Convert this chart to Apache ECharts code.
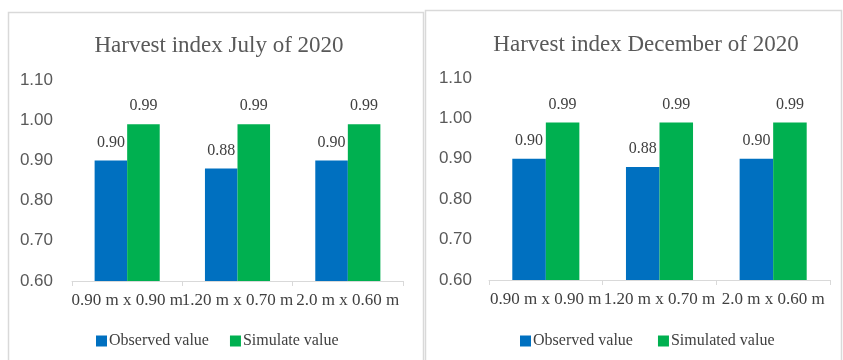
<!DOCTYPE html>
<html lang="en">
<head>
    <meta charset="UTF-8">
    <title>harvest index</title>
    <script src="https://cdn.jsdelivr.net/npm/echarts@6/dist/echarts.min.js"></script>
    <style type="text/css">
        body {
            margin: 0;
            padding: 0;
            background-color: #fff;
        }

        #chart {
            width: 843px;
            height: 360px;
        }
    </style>
</head>
<body>
<div id="chart"></div>

<script>
    // spacing treatments
    const categories = ["0.90 m x 0.90 m", "1.20 m x 0.70 m", "2.0 m x 0.60 m"];
    const yTicks = [0.6, 0.7, 0.8, 0.9, 1.0, 1.1];

    // July 2020
    const julyObserved = [0.90, 0.88, 0.90];
    const julySimulated = [0.99, 0.99, 0.99];

    // December 2020
    const decObserved = [0.90, 0.88, 0.90];
    const decSimulated = [0.99, 0.99, 0.99];

    const blue = "#0070C0";
    const green = "#00B050";
    const serif = "'Liberation Serif', 'DejaVu Serif', serif";
    const sans = "'Liberation Sans', Arial, sans-serif";

    function xAxis(gridIndex) {
        return {
            type: "category",
            gridIndex: gridIndex,
            data: categories,
            axisLine: {lineStyle: {color: "#d9d9d9", width: 1}},
            axisTick: {show: true, length: 5, lineStyle: {color: "#d9d9d9"}},
            axisLabel: {
                color: "#404040",
                fontFamily: serif,
                fontSize: 17,
                margin: 11,
                interval: 0,
            },
        };
    }

    function yAxis(gridIndex, margin) {
        return {
            type: "value",
            gridIndex: gridIndex,
            min: yTicks[0],
            max: yTicks[yTicks.length - 1],
            interval: 0.1,
            splitLine: {show: false},
            axisLine: {show: false},
            axisTick: {show: false},
            axisLabel: {
                color: "#595959",
                fontFamily: sans,
                fontSize: 17,
                margin: margin,
                formatter: v => v.toFixed(2),
            },
        };
    }

    function barSeries(name, data, color, axisIndex) {
        return {
            name: name,
            type: "bar",
            xAxisIndex: axisIndex,
            yAxisIndex: axisIndex,
            data: data,
            barGap: "0%",
            barCategoryGap: "41%",
            itemStyle: {color: color},
            label: {
                show: true,
                position: "top",
                distance: 10,
                color: "#404040",
                fontFamily: serif,
                fontSize: 16,
                formatter: p => p.value.toFixed(2),
            },
        };
    }

    const legendText = {fontFamily: serif, fontSize: 16, color: "#404040", padding: [0, 0, 0, -3]};

    const chart = echarts.init(document.getElementById("chart"));
    chart.setOption({
        animation: false,
        graphic: [
            {type: "rect", shape: {x: 8.5, y: 12.5, width: 415, height: 360}, style: {fill: "none", stroke: "#d9d9d9", lineWidth: 1.5}},
            {type: "rect", shape: {x: 425.5, y: 10.5, width: 416, height: 360}, style: {fill: "none", stroke: "#d9d9d9", lineWidth: 1.5}},
        ],
        title: [
            {text: "Harvest index July of 2020", left: 214, top: 29, textAlign: "center",
                textStyle: {fontFamily: serif, fontSize: 23, fontWeight: "normal", color: "#595959"}},
            {text: "Harvest index December of 2020", left: 641, top: 28, textAlign: "center",
                textStyle: {fontFamily: serif, fontSize: 23, fontWeight: "normal", color: "#595959"}},
        ],
        legend: [
            {data: ["Observed value", "Simulate value"], left: 91, top: 328,
                icon: "rect", itemWidth: 11, itemHeight: 11, itemGap: 21, textStyle: legendText},
            {data: ["Observed value ", "Simulated value"], left: 515, top: 328,
                icon: "rect", itemWidth: 11, itemHeight: 11, itemGap: 21, textStyle: legendText},
        ],
        grid: [
            {left: 72, right: 440, top: 80, bottom: 79},
            {left: 489, right: 13, top: 78, bottom: 80},
        ],
        xAxis: [xAxis(0), xAxis(1)],
        yAxis: [yAxis(0, 19), yAxis(1, 17)],
        series: [
            barSeries("Observed value", julyObserved, blue, 0),
            barSeries("Simulate value", julySimulated, green, 0),
            barSeries("Observed value ", decObserved, blue, 1),
            barSeries("Simulated value", decSimulated, green, 1),
        ],
    });
</script>
</body>
</html>
